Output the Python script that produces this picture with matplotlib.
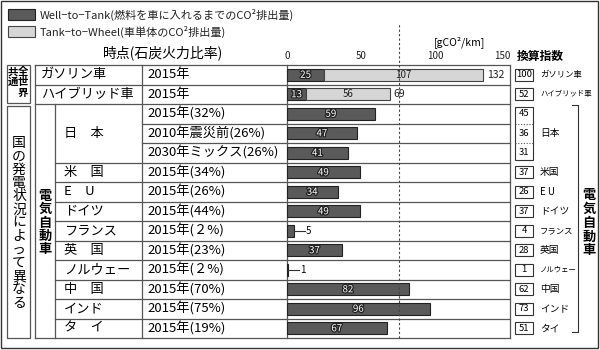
import matplotlib
matplotlib.use("Agg")
import matplotlib.pyplot as plt
import matplotlib.patheffects as pe
from matplotlib.patches import Rectangle

plt.rcParams["font.family"] = ["Noto Sans CJK JP", "DejaVu Sans"]

# ---- data ----
vehicles = ["ガソリン車", "ハイブリッド車"]
countries = ["日　本", "米　国", "E　U", "ドイツ", "フランス", "英　国",
             "ノルウェー", "中　国", "インド", "タ　イ"]
country_rows = [3, 1, 1, 1, 1, 1, 1, 1, 1, 1]
periods = ["2015年", "2015年", "2015年(32%)", "2010年震災前(26%)",
           "2030年ミックス(26%)", "2015年(34%)", "2015年(26%)", "2015年(44%)",
           "2015年(２%)", "2015年(23%)", "2015年(２%)", "2015年(70%)",
           "2015年(75%)", "2015年(19%)"]
well_to_tank = [25, 13, 59, 47, 41, 49, 34, 49, 5, 37, 1, 82, 96, 67]
tank_to_wheel = [107, 56, 0, 0, 0, 0, 0, 0, 0, 0, 0, 0, 0, 0]
index_vals = [100, 52, 45, 36, 31, 37, 26, 37, 4, 28, 1, 62, 73, 51]
index_names = ["ガソリン車", "ハイブリッド車", "日本", "米国", "E U", "ドイツ",
               "フランス", "英国", "ノルウェー", "中国", "インド", "タイ"]
x_ticks = [0, 50, 100, 150]

DARK = "#5a5a5a"
LIGHT = "#d6d6d6"
LINE = "#555555"

# ---- layout (pixels) ----
W, H = 600, 350
TOP, ROW_H = 65, 19.5
N = len(periods)
BOTTOM = TOP + N * ROW_H
X0, X1 = 287, 510


def row_top(i):
    return TOP + i * ROW_H


fig = plt.figure(figsize=(6, 3.5), dpi=100)
lay = fig.add_axes([0, 0, 1, 1])
lay.set_xlim(0, W)
lay.set_ylim(H, 0)
lay.axis("off")

ax = fig.add_axes([X0 / W, (H - BOTTOM) / H, (X1 - X0) / W, N * ROW_H / H])
ax.patch.set_visible(False)
ax.set_xlim(0, 150)
ax.set_ylim(N, 0)
for s in ax.spines.values():
    s.set_visible(False)
ax.set_yticks([])
ax.xaxis.tick_top()
ax.set_xticks(x_ticks)
ax.set_xticklabels([str(v) for v in x_ticks])
ax.tick_params(axis="x", length=0, pad=3, labelsize=7, colors="#222222")
ax.get_xticklabels()[-1].set_ha("right")

# outer frame
lay.add_patch(Rectangle((1, 1), 597, 347, fill=False, ec="#333333", lw=1))

# legend
lay.add_patch(Rectangle((8, 9), 27, 11, fc=DARK, ec="#222222", lw=0.8))
lay.add_patch(Rectangle((8, 26), 27, 11, fc=LIGHT, ec="#444444", lw=0.8))
lay.text(40, 15, "Well−to−Tank(燃料を車に入れるまでのCO²排出量)", fontsize=8,
         va="center", color="#222222")
lay.text(40, 32, "Tank−to−Wheel(車単体のCO²排出量)", fontsize=8,
         va="center", color="#222222")

# headers
lay.text(163, 53, "時点(石炭火力比率)", fontsize=10, ha="center", va="center")
lay.text(460, 42, "[gCO²/km]", fontsize=7.5, ha="center", va="center")
lay.text(540, 56, "換算指数", fontsize=8.5, ha="center", va="center",
         weight="bold")

# table grid
lay.plot([35, X1], [TOP, TOP], color=LINE, lw=0.9)
lay.plot([35, X1], [BOTTOM, BOTTOM], color=LINE, lw=0.9)
jp_end = 2 + country_rows[0]
for i in range(1, N):
    if i <= 2:
        x_start = 35
    elif i < jp_end:
        x_start = 142
    else:
        x_start = 55
    lay.plot([x_start, X1], [row_top(i), row_top(i)], color=LINE, lw=0.9)
for x, y_start in [(35, TOP), (55, row_top(2)), (142, TOP), (X0, TOP), (X1, TOP)]:
    lay.plot([x, x], [y_start, BOTTOM], color=LINE, lw=0.9)

# left group boxes
lay.add_patch(Rectangle((7, TOP), 23, row_top(2) - TOP - 1.5, fill=False,
                        ec=LINE, lw=0.9))
lay.add_patch(Rectangle((7, row_top(2) + 2), 23, BOTTOM - row_top(2) - 2,
                        fill=False, ec=LINE, lw=0.9))
for ch, (cx, cy) in zip("全世界共通", [(23, 72), (23, 82), (23, 93), (13, 72), (13, 82)]):
    lay.text(cx, cy, ch, fontsize=7.5, ha="center", va="center", weight="bold")

for k, ch in enumerate("国の発電状況によって異なる"):
    lay.text(19, 143 + k * 13.3, ch, fontsize=10, ha="center", va="center")
for k, ch in enumerate("電気自動車"):
    lay.text(45, 196 + k * 13.3, ch, fontsize=9.5, ha="center", va="center",
             weight="bold")
for k, ch in enumerate("電気自動車"):
    lay.text(589, 195 + k * 13.8, ch, fontsize=9.5, ha="center", va="center",
             weight="bold")

# row names and periods
for i, name in enumerate(vehicles):
    lay.text(41, row_top(i) + ROW_H / 2, name, fontsize=9.5, va="center")
r = 2
for name, span in zip(countries, country_rows):
    lay.text(64, row_top(r) + span * ROW_H / 2, name, fontsize=9.5, va="center")
    r += span
for i, p in enumerate(periods):
    lay.text(147, row_top(i) + ROW_H / 2, p, fontsize=9.5, va="center")

# bars
rows = [i + 0.5 for i in range(N)]
ax.barh(rows, well_to_tank, height=0.6, color=DARK, edgecolor="#222222", lw=0.8)
ax.barh(rows[:2], tank_to_wheel[:2], left=well_to_tank[:2], height=0.6,
        color=LIGHT, edgecolor="#444444", lw=0.8)

outline = [pe.withStroke(linewidth=1.8, foreground="#222222")]
for i, (a, b) in enumerate(zip(well_to_tank, tank_to_wheel)):
    y = rows[i]
    if a >= 10:
        ax.text(a / 2, y, str(a), fontsize=7, ha="center", va="center",
                color="white", path_effects=outline)
    else:
        ax.plot([a, a + 7], [y, y], color="#333333", lw=0.8)
        ax.text(a + 7.5, y, str(a), fontsize=7, ha="left", va="center")
    if b > 0:
        ax.text(a + b / 2, y, str(b), fontsize=7, ha="center", va="center",
                color="#222222")
        ax.text(a + b + 2.5, y, str(a + b), fontsize=7.5, ha="left",
                va="center", color="#222222")

# dashed guide
ax.plot([75, 75], [N, -(TOP - 23) / ROW_H], color="#444444", lw=0.8,
        ls=(0, (2, 2)), clip_on=False)

# conversion index column
BX, BW = 515, 18
for i in range(N):
    if 2 <= i < jp_end:
        continue
    cy = row_top(i) + ROW_H / 2
    lay.add_patch(Rectangle((BX, cy - 6), BW, 12, fill=False, ec="#333333", lw=0.8))
    lay.text(BX + BW / 2, cy, str(index_vals[i]), fontsize=6.8, ha="center",
             va="center")
lay.add_patch(Rectangle((BX, row_top(2) + 3), BW, row_top(jp_end) - row_top(2) - 6,
                        fill=False, ec="#333333", lw=0.8))
for i in range(3, jp_end):
    lay.plot([BX, BX + BW], [row_top(i), row_top(i)], color="#555555", lw=0.8,
             ls=(0, (1, 1.5)))
for i in range(2, jp_end):
    lay.text(BX + BW / 2, row_top(i) + ROW_H / 2, str(index_vals[i]),
             fontsize=6.8, ha="center", va="center")

label_rows = [0, 1, 3] + list(range(jp_end, N))
for i, name in zip(label_rows, index_names):
    n = len(name)
    size = 7 if n <= 3 else (6 if n == 4 else 5.3)
    if name == "ガソリン車":
        size = 6
    lay.text(540, row_top(i) + ROW_H / 2, name, fontsize=size, va="center")

# bracket for EV rows
lay.plot([572, 578, 578, 572], [row_top(2) + 1, row_top(2) + 1, BOTTOM - 6, BOTTOM - 6],
         color="#333333", lw=0.8)

fig.savefig("out.png", dpi=100)
